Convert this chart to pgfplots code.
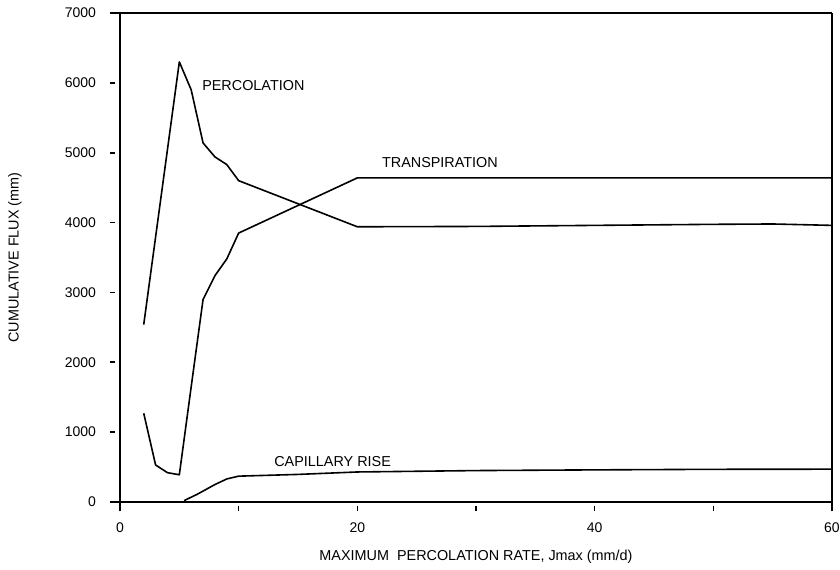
\documentclass[border=0pt]{standalone}
\usepackage{pgfplots}
\pgfplotsset{compat=1.18}
\usepackage{fontspec}
\setmainfont{Liberation Sans}

\begin{document}
\begin{tikzpicture}
\begin{axis}[
  at={(0,0)}, anchor=south west,
  scale only axis, width=356pt, height=244.5pt,
  xmin=0, xmax=60, ymin=0, ymax=7000,
  axis line style={draw=none},
  clip=false,
  xtick={0,10,...,60}, xticklabels={0,,20,,40,,60},
  ytick={0,1000,...,7000},
  xtick pos=left, ytick pos=left,
  tick align=outside,
  major tick length=2.5pt,
  tick style={black, line width=0.8pt},
  xtick style={yshift=-2pt},
  ytick style={xshift=-2.5pt},
  scaled y ticks=false,
  /pgf/number format/assume math mode=true,
  /pgf/number format/1000 sep={},
  tick label style={font=\fontsize{7}{8}\selectfont},
  xticklabel style={yshift=-4.2pt},
  yticklabel style={xshift=-6pt},
  every axis x label/.style={at={(axis description cs:0.5,0)}, anchor=center, yshift=-27.5pt, font=\fontsize{7.2}{8.6}\selectfont},
  every axis y label/.style={at={(axis description cs:-0.1475,0.5)}, anchor=center, rotate=90, font=\fontsize{7.2}{8.6}\selectfont},
  xlabel={MAXIMUM\ \ PERCOLATION RATE, Jmax (mm/d)},
  ylabel={CUMULATIVE FLUX (mm)},
]
\draw[line width=1pt] ([yshift=-4.5pt]rel axis cs:0,0) -- (rel axis cs:0,1);
\draw[line width=1pt] ([yshift=-4.5pt]rel axis cs:1,0) -- (rel axis cs:1,1);
\draw[line width=1pt] ([xshift=-5pt]rel axis cs:0,0) -- (rel axis cs:1,0);
\draw[line width=1pt] ([xshift=-5pt]rel axis cs:0,1) -- (rel axis cs:1,1);

% Percolation
\addplot[black, line width=0.8pt, line join=round] coordinates {
(2,2540) (5,6300) (6,5900) (7,5140) (8,4940) (9,4830) (10,4600)
(20,3940) (30,3945) (40,3960) (50,3975) (55,3980) (60,3960)
};
% Transpiration
\addplot[black, line width=0.8pt, line join=round] coordinates {
(2,1270) (3,530) (4,420) (5,390) (6,1650) (7,2900) (8,3240) (9,3480) (10,3850)
(20,4640) (60,4640)
};
% Capillary rise
\addplot[black, line width=0.8pt, line join=round] coordinates {
(5.4,20) (6.5,110) (8,250) (9,330) (10,370) (15,395) (20,430) (30,450) (40,460) (50,468) (60,470)
};

\node[anchor=base west, inner sep=0pt, font=\fontsize{7.2}{8.6}\selectfont] at (axis cs:6.9,5895) {PERCOLATION};
\node[anchor=base west, inner sep=0pt, font=\fontsize{7.2}{8.6}\selectfont] at (axis cs:22.05,4783) {TRANSPIRATION};
\node[anchor=base west, inner sep=0pt, font=\fontsize{7.2}{8.6}\selectfont] at (axis cs:12.97,502) {CAPILLARY RISE};
\end{axis}
\pgfresetboundingbox
\path[use as bounding box] (-60pt,-33.5pt) rectangle (360pt,251pt);
\end{tikzpicture}
\end{document}
